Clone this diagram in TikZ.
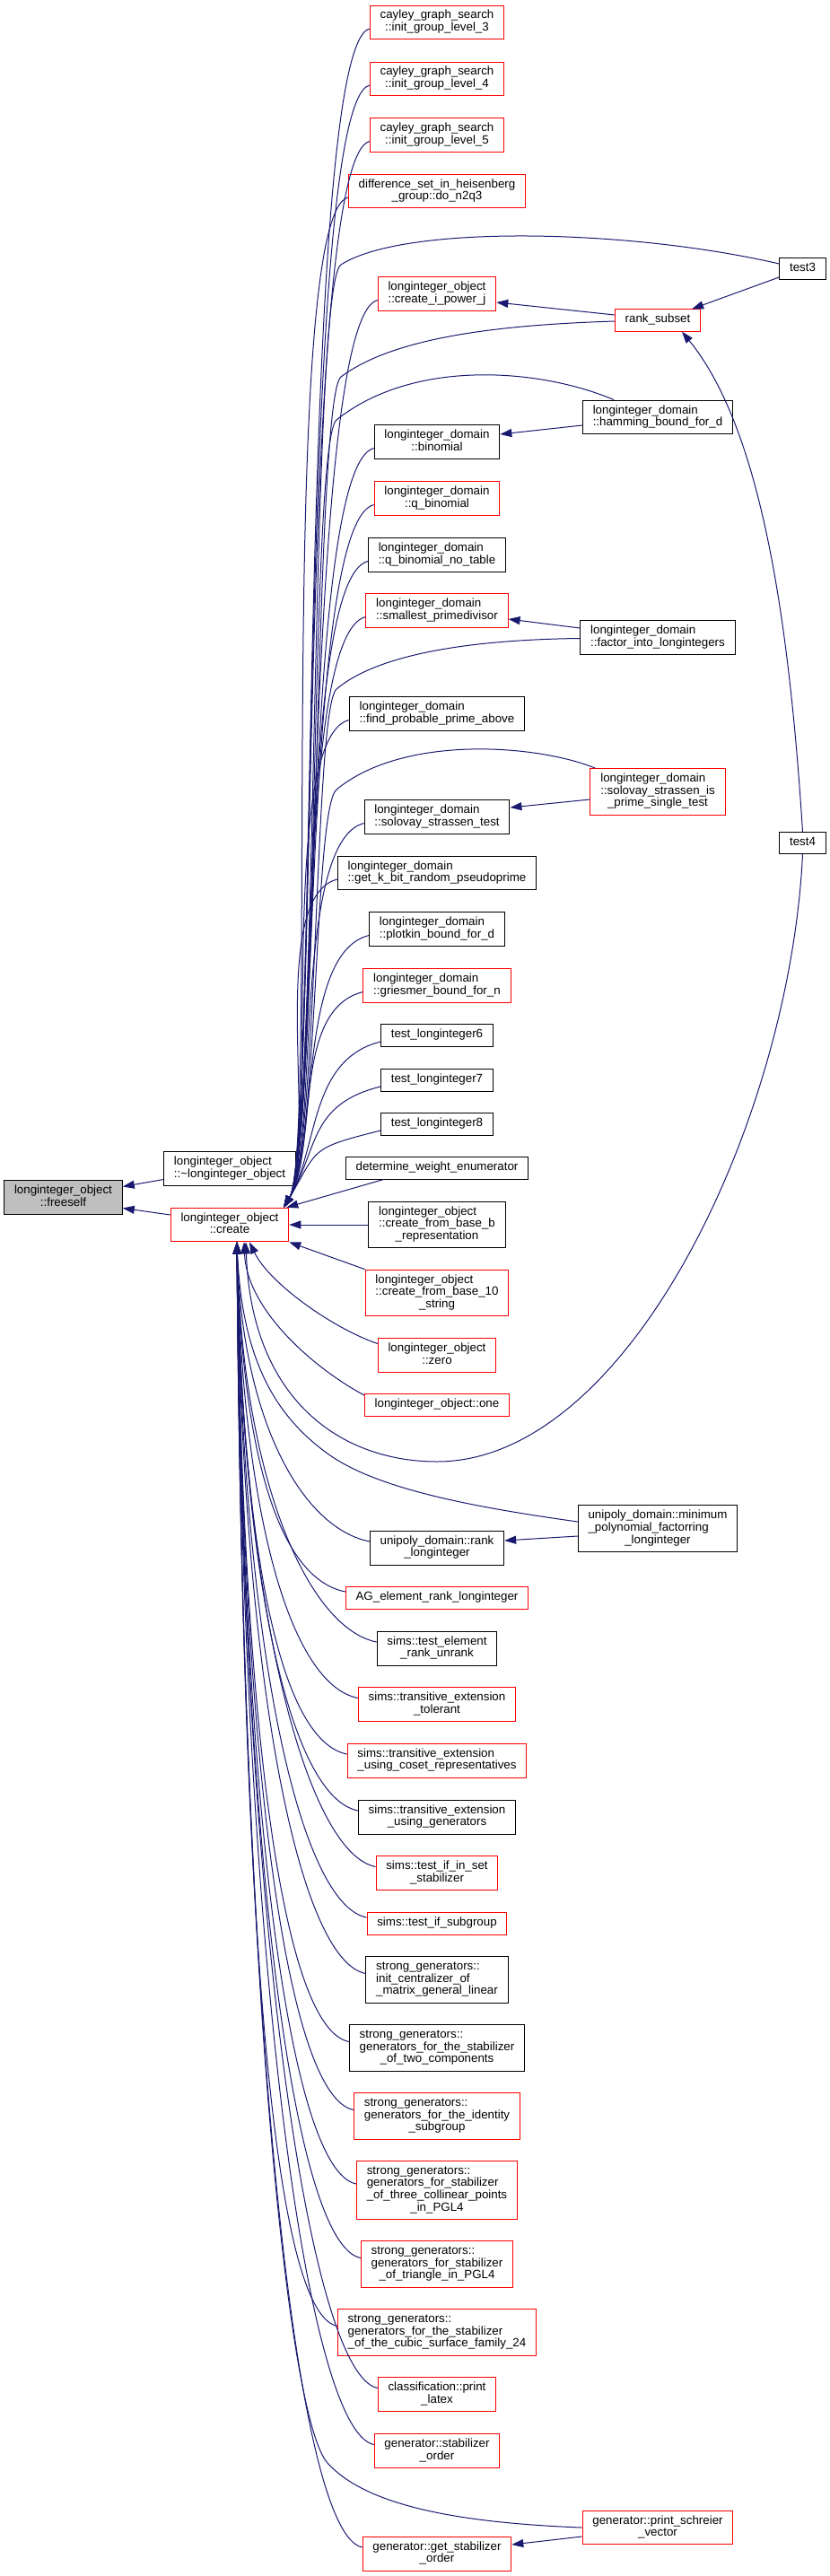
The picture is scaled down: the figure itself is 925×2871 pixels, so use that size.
\documentclass[tikz,border=0pt]{standalone}
\usepackage{fontspec}
\setmainfont{Liberation Sans}
\usetikzlibrary{arrows.meta}

\definecolor{callblue}{HTML}{191970}
\definecolor{selfgray}{HTML}{BFBFBF}

\newcommand\fnl[2]{\begin{tabular}{@{}l@{}}#1\\\multicolumn{1}{@{}c@{}}{#2}\end{tabular}}
\newcommand\fnc[1]{\begin{tabular}{@{}c@{}}#1\end{tabular}}

\tikzset{
  fn/.style={draw=black, line width=1pt, fill=white, inner xsep=11.3pt, inner ysep=5.33pt,
    font=\fontsize{13.33}{13.33}\selectfont},
  fnred/.style={fn, draw=red},
  fnself/.style={fn, fill=selfgray},
  call/.style={draw=callblue, line width=1pt, -{Triangle[length=13pt,width=9pt]}},
}

\begin{document}
\begin{tikzpicture}[x=1pt, y=-1pt]
                    \useasboundingbox (0,0) rectangle (925,2871);
                    \node[fnself] (freeself) at (70.5,1334.5) {\fnl{longinteger\_object}{::freeself}};
                    \node[fn] (dtor) at (256,1302.5) {\fnl{longinteger\_object}{::\textasciitilde{}longinteger\_object}};
                    \node[fnred] (create) at (256,1365) {\fnl{longinteger\_object}{::create}};
                    \node[fnred] (cayley3) at (487,25) {\fnl{cayley\_graph\_search}{::init\_group\_level\_3}};
                    \node[fnred] (cayley4) at (487,88) {\fnl{cayley\_graph\_search}{::init\_group\_level\_4}};
                    \node[fnred] (cayley5) at (487,150.5) {\fnl{cayley\_graph\_search}{::init\_group\_level\_5}};
                    \node[fnred] (diffset) at (487,213) {\fnl{difference\_set\_in\_heisenberg}{\_group::do\_n2q3}};
                    \node[fnred] (ipowj) at (487,327.5) {\fnl{longinteger\_object}{::create\_i\_power\_j}};
                    \node[fn] (binomial) at (487,492.5) {\fnl{longinteger\_domain}{::binomial}};
                    \node[fnred] (qbinomial) at (487,555.5) {\fnl{longinteger\_domain}{::q\_binomial}};
                    \node[fn] (qbinnotable) at (487,618.5) {\fnl{longinteger\_domain}{::q\_binomial\_no\_table}};
                    \node[fnred] (smallestpd) at (487,680.5) {\fnl{longinteger\_domain}{::smallest\_primedivisor}};
                    \node[fn] (findprime) at (487,795.5) {\fnl{longinteger\_domain}{::find\_probable\_prime\_above}};
                    \node[fn] (solovaytest) at (487,910.5) {\fnl{longinteger\_domain}{::solovay\_strassen\_test}};
                    \node[fn] (getkbit) at (487,973) {\fnl{longinteger\_domain}{::get\_k\_bit\_random\_pseudoprime}};
                    \node[fn] (plotkin) at (487,1035.5) {\fnl{longinteger\_domain}{::plotkin\_bound\_for\_d}};
                    \node[fnred] (griesmer) at (487,1098.5) {\fnl{longinteger\_domain}{::griesmer\_bound\_for\_n}};
                    \node[fn] (test6) at (487,1154) {\fnc{test\_longinteger6}};
                    \node[fn] (test7) at (487,1204) {\fnc{test\_longinteger7}};
                    \node[fn] (test8) at (487,1253) {\fnc{test\_longinteger8}};
                    \node[fn] (determine) at (487,1302) {\fnc{determine\_weight\_enumerator}};
                    \node[fn] (frombaseb) at (487,1365) {\fnl{longinteger\_object\\::create\_from\_base\_b}{\_representation}};
                    \node[fnred] (frombaseten) at (487,1441) {\fnl{longinteger\_object\\::create\_from\_base\_10}{\_string}};
                    \node[fnred] (zero) at (487,1510.5) {\fnl{longinteger\_object}{::zero}};
                    \node[fnred] (one) at (487,1566) {\fnc{longinteger\_object::one}};
                    \node[fn] (unipolyrank) at (487,1725) {\fnl{unipoly\_domain::rank}{\_longinteger}};
                    \node[fnred] (agelement) at (487,1781) {\fnc{AG\_element\_rank\_longinteger}};
                    \node[fn] (testelemrank) at (487,1837) {\fnl{sims::test\_element}{\_rank\_unrank}};
                    \node[fnred] (tolerant) at (487,1899.5) {\fnl{sims::transitive\_extension}{\_tolerant}};
                    \node[fnred] (usingcoset) at (487,1962) {\fnl{sims::transitive\_extension}{\_using\_coset\_representatives}};
                    \node[fn] (usinggens) at (487,2025) {\fnl{sims::transitive\_extension}{\_using\_generators}};
                    \node[fnred] (setstab) at (487,2087.5) {\fnl{sims::test\_if\_in\_set}{\_stabilizer}};
                    \node[fnred] (subgroup) at (487,2144) {\fnc{sims::test\_if\_subgroup}};
                    \node[fn] (centralizer) at (487,2206.5) {\fnl{strong\_generators::\\init\_centralizer\_of}{\_matrix\_general\_linear}};
                    \node[fn] (twocomp) at (487,2282.5) {\fnl{strong\_generators::\\generators\_for\_the\_stabilizer}{\_of\_two\_components}};
                    \node[fnred] (identity) at (487,2358.5) {\fnl{strong\_generators::\\generators\_for\_the\_identity}{\_subgroup}};
                    \node[fnred] (collinear) at (487,2441) {\fnl{strong\_generators::\\generators\_for\_stabilizer\\\_of\_three\_collinear\_points}{\_in\_PGL4}};
                    \node[fnred] (triangle) at (487,2523.5) {\fnl{strong\_generators::\\generators\_for\_stabilizer}{\_of\_triangle\_in\_PGL4}};
                    \node[fnred] (cubic) at (487,2599.5) {\fnl{strong\_generators::\\generators\_for\_the\_stabilizer}{\_of\_the\_cubic\_surface\_family\_24}};
                    \node[fnred] (printlatex) at (487,2668.5) {\fnl{classification::print}{\_latex}};
                    \node[fnred] (stabord) at (487,2731.5) {\fnl{generator::stabilizer}{\_order}};
                    \node[fnred] (getstabord) at (487,2846) {\fnl{generator::get\_stabilizer}{\_order}};
                    \node[fnred] (ranksubset) at (733,357) {\fnc{rank\_subset}};
                    \node[fn] (hamming) at (733,465) {\fnl{longinteger\_domain}{::hamming\_bound\_for\_d}};
                    \node[fn] (factorinto) at (733,710.5) {\fnl{longinteger\_domain}{::factor\_into\_longintegers}};
                    \node[fnred] (solovayprime) at (733,882.5) {\fnl{longinteger\_domain\\::solovay\_strassen\_is}{\_prime\_single\_test}};
                    \node[fn] (minpoly) at (733,1703.5) {\fnl{unipoly\_domain::minimum\\\_polynomial\_factorring}{\_longinteger}};
                    \node[fnred] (schreier) at (733,2817) {\fnl{generator::print\_schreier}{\_vector}};
                    \node[fn] (test3) at (894.5,299.5) {\fnc{test3}};
                    \node[fn] (test4) at (894.5,939.5) {\fnc{test4}};
                    \draw[call] ([yshift=-12pt]dtor.west) -- ([yshift=12pt]freeself.east);
                    \draw[call] ([yshift=11pt]create.west) -- ([yshift=-12pt]freeself.east);
                    \foreach \n in {cayley3,cayley4,cayley5,diffset,ipowj,binomial,qbinomial,qbinnotable,smallestpd,findprime,solovaytest,getkbit,plotkin,griesmer,test6,test7,test8}
                      \draw[call] ([yshift=-7pt]\n.west) .. controls +(-80,20) and (355,1280) .. ([xshift=-6pt]create.north east);
                    \foreach \n/\m in {unipolyrank/1584,agelement/1618,testelemrank/1652,tolerant/1689,usingcoset/1727,usinggens/1764,setstab/1802,subgroup/1836,centralizer/1873,twocomp/1919,identity/1965,collinear/2014,triangle/2064,cubic/2109,printlatex/2151,stabord/2188,getstabord/2257}
                      \draw[call] ([yshift=7pt]\n.west) .. controls +(-75,-15) and (270,\m) .. ([xshift=8pt]create.south);
                    \draw[call] ([xshift=-60pt]determine.south) -- ([xshift=-3pt]create.north east);
                    \draw[call] (frombaseb.west) -- (create.east);
                    \draw[call] (frombaseten.north west) -- (create.south east);
                    \draw[call] ([yshift=13pt]zero.west) .. controls (370,1480) and (300,1430) .. ([xshift=22pt]create.south);
                    \draw[call] ([yshift=11pt]one.west) .. controls (350,1525) and (275,1460) .. ([xshift=16pt]create.south);
                    \draw[call] ([yshift=-9.5pt]test3.west) -- ([xshift=-10pt]ranksubset.north east);
                    \draw[call] ([yshift=6pt]ranksubset.west) -- ([yshift=-9.5pt]ipowj.east);
                    \draw[call] (test4.north) .. controls (880,700) and (850,480) .. ([xshift=27pt]ranksubset.south);
                    \draw[call] ([yshift=-9pt]hamming.west) -- ([yshift=8.5pt]binomial.east);
                    \draw[call] ([yshift=10.5pt]factorinto.west) -- ([yshift=-9.5pt]smallestpd.east);
                    \draw[call] ([yshift=-8.5pt]solovayprime.west) -- ([yshift=10.5pt]solovaytest.east);
                    \draw[call] ([yshift=-8.5pt]minpoly.west) -- ([yshift=8pt]unipolyrank.east);
                    \draw[call] ([yshift=-10pt]schreier.west) -- ([yshift=10pt]getstabord.east);
                    \draw[call] ([yshift=5.5pt]test3.west) .. controls (700,255) and (450,250) .. (380,295) .. controls (345,317) and (355,1280) .. ([xshift=-6pt]create.north east);
                    \draw[call] ([yshift=-1pt]ranksubset.west) .. controls (560,362) and (440,375) .. (380,420) .. controls (350,442) and (355,1280) .. ([xshift=-6pt]create.north east);
                    \draw[call] ([xshift=35pt]hamming.north west) .. controls (600,410) and (460,400) .. (375,468) .. controls (345,492) and (355,1280) .. ([xshift=-6pt]create.north east);
                    \draw[call] ([yshift=-1pt]factorinto.west) .. controls (520,713) and (420,730) .. (375,768) .. controls (350,790) and (355,1280) .. ([xshift=-6pt]create.north east);
                    \draw[call] ([xshift=6pt]solovayprime.north west) .. controls (600,830) and (450,818) .. (375,880) .. controls (350,900) and (355,1280) .. ([xshift=-6pt]create.north east);
                    \draw[call] ([yshift=7.5pt]minpoly.west) .. controls (530,1680) and (420,1660) .. (365,1620) .. controls (310,1580) and (270,1520) .. ([xshift=8pt]create.south);
                    \draw[call] (schreier.west) .. controls (520,2812) and (410,2795) .. (365,2745) .. controls (320,2695) and (270,2200) .. ([xshift=8pt]create.south);
                    \draw[call] (test4.south) .. controls (880,1250) and (700,1629) .. (487,1629) .. controls (380,1629) and (280,1560) .. ([xshift=18pt]create.south);
\end{tikzpicture}
\end{document}
